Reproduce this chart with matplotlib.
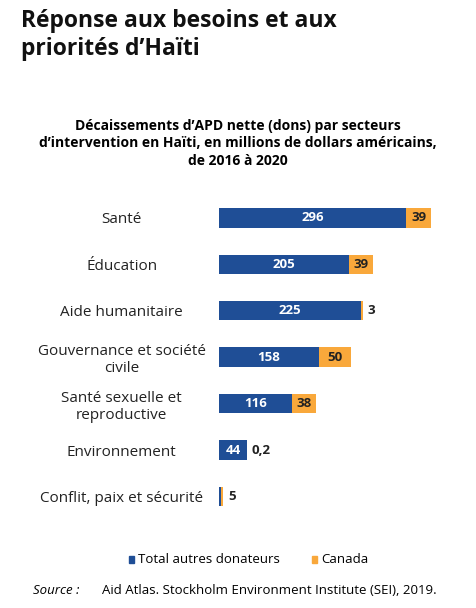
import matplotlib.pyplot as plt

plt.rcParams['font.family'] = ['Open Sans', 'DejaVu Sans']

# Data
secteurs = ['Santé', 'Éducation', 'Aide humanitaire', 'Gouvernance et société\ncivile',
            'Santé sexuelle et\nreproductive', 'Environnement', 'Conflit, paix et sécurité']
autres = [296, 205, 225, 158, 116, 44, 4]
canada = [39, 39, 3, 50, 38, 0.2, 3]
canada_labels = ['39', '39', '3', '50', '38', '0,2', '5']
autres_labels = ['296', '205', '225', '158', '116', '44', '']

navy = '#1F4E96'
orange = '#F9A83B'

fig = plt.figure(figsize=(4.76, 6.08), dpi=100)
ax = fig.add_axes([0.46, 0.145, 0.46, 0.535])

y = list(range(len(secteurs)))
ax.barh(y, autres, height=0.42, color=navy)
ax.barh(y, canada, left=autres, height=0.42, color=orange)
ax.set_xlim(0, 346)
ax.set_ylim(6.5, -0.5)

for i in y:
    if autres_labels[i]:
        ax.text(autres[i] / 2, i, autres_labels[i], color='white', ha='center', va='center',
                fontsize=9.5, fontweight='bold')
    tot = autres[i] + canada[i]
    if canada[i] >= 20:
        ax.text(autres[i] + canada[i] / 2, i, canada_labels[i], color='#222222', ha='center',
                va='center', fontsize=9.5, fontweight='bold')
    else:
        ax.text(tot + 7, i, canada_labels[i], color='#222222', ha='left', va='center',
                fontsize=9.5, fontweight='bold')

ax.set_yticks(y)
ax.set_yticklabels(secteurs, fontsize=11, color='#222222', ha='center')
ax.tick_params(axis='y', length=0, pad=70)
ax.set_xticks([])
for s in ax.spines.values():
    s.set_visible(False)

fig.text(0.045, 0.985, 'Réponse aux besoins et aux\npriorités d\u2019Haïti', fontsize=16.5,
         fontweight='bold', va='top', ha='left', color='#111111', linespacing=1.2)
fig.text(0.5, 0.805, 'Décaissements d\u2019APD nette (dons) par secteurs\n'
         'd\u2019intervention en Haïti, en millions de dollars américains,\nde 2016 à 2020',
         fontsize=10, fontweight='bold', ha='center', va='top', linespacing=1.35)

# legend
fig.patches.append(plt.Rectangle((0.27, 0.074), 0.012, 0.012, color=navy, transform=fig.transFigure))
fig.text(0.29, 0.080, 'Total autres donateurs', fontsize=9.5, va='center')
fig.patches.append(plt.Rectangle((0.655, 0.074), 0.012, 0.012, color=orange, transform=fig.transFigure))
fig.text(0.675, 0.080, 'Canada', fontsize=9.5, va='center')

fig.text(0.07, 0.028, 'Source :', fontsize=9.5, style='italic', ha='left', va='center')
fig.text(0.215, 0.028, 'Aid Atlas. Stockholm Environment Institute (SEI), 2019.',
         fontsize=9.5, ha='left', va='center')
fig.savefig('out.png', dpi=100)
